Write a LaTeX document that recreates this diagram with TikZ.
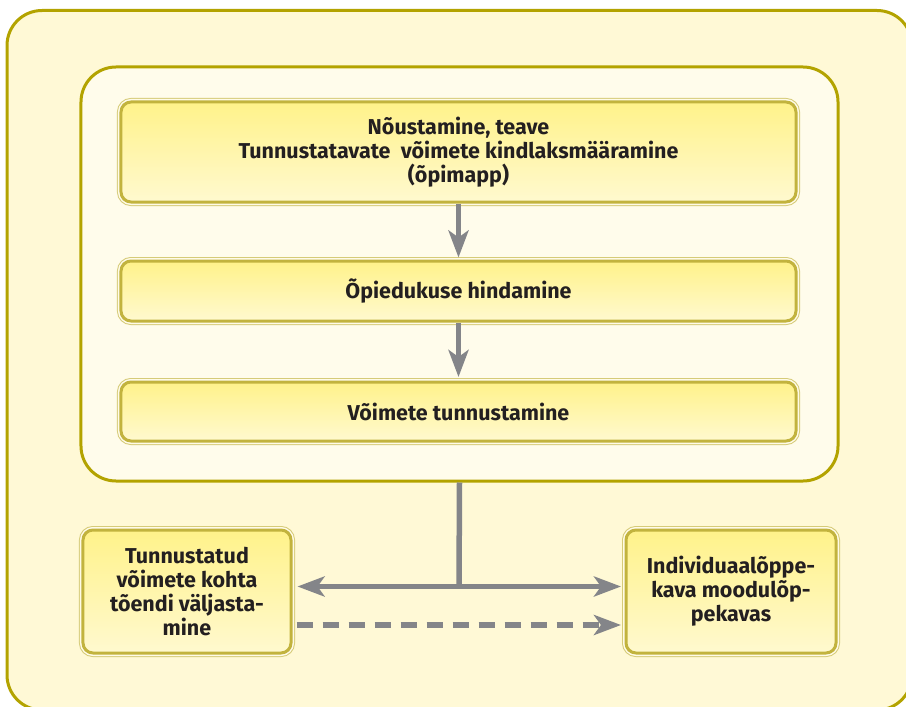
\documentclass[tikz,border=0pt]{standalone}
\usepackage{fontspec}
\setsansfont{Fira Sans}
\usetikzlibrary{arrows.meta}
\definecolor{framefill}{HTML}{FFF9D6}
\definecolor{frameedge}{HTML}{B3A300}
\definecolor{stagefill}{HTML}{FFFCEB}
\definecolor{boxtop}{HTML}{FFF28A}
\definecolor{boxbot}{HTML}{FFF9CF}
\definecolor{boxedge}{HTML}{C2B33E}
\definecolor{boxrim}{HTML}{D6CB78}
\definecolor{boxgap}{HTML}{FFFBE8}
\definecolor{boxtext}{HTML}{231F20}
\definecolor{flowgray}{HTML}{848589}
\begin{document}
\begin{tikzpicture}[x=1bp,y=-1bp,
    phasebox/.style={rounded corners=10bp, align=center, inner sep=0pt,
        preaction={draw=boxrim, line width=8bp},
        preaction={draw=boxgap, line width=6bp},
        draw=boxedge, line width=3bp, top color=boxtop, bottom color=boxbot,
        text=boxtext, font=\sffamily\bfseries\fontsize{21.5bp}{24bp}\selectfont},
    stageframe/.style={draw=frameedge, line width=3bp, fill=stagefill,
        rounded corners=35bp, inner sep=0pt},
    flowline/.style={draw=flowgray, line width=5.5bp},
    flowarrow/.style={flowline, -{Stealth[length=27bp, width=20bp, inset=7bp]}}
]
    \useasboundingbox (0,0) rectangle (906,707);
    \clip (0,0) rectangle (906,707);
    % outer frame
    \draw[draw=frameedge, line width=3bp, fill=framefill, rounded corners=35bp] (7,10.5) rectangle (912,710);
    % stages
    \node[stageframe, minimum width=757bp, minimum height=414bp] (stages) at (459.5,274) {};
    \node[phasebox, minimum width=675bp, minimum height=100bp] (noust) at (458.5,152)
        {Nõustamine, teave\\Tunnustatavate~ võimete kindlaksmääramine\\(õpimapp)};
    \node[phasebox, minimum width=675bp, minimum height=60bp] (opied) at (458.5,291)
        {Õpiedukuse hindamine};
    \node[phasebox, minimum width=675bp, minimum height=59bp] (tunnus) at (458.5,411.5)
        {Võimete tunnustamine};
    \draw[flowarrow, shorten >=2bp] (noust.south) -- (opied.north);
    \draw[flowarrow, shorten >=3.5bp] (opied.south) -- (tunnus.north);
    % results
    \node[phasebox, minimum width=208bp, minimum height=123bp] (toend) at (187,591.5)
        {Tunnustatud\\võimete kohta\\tõendi väljasta-\\mine};
    \node[phasebox, minimum width=210bp, minimum height=123bp] (plan) at (731,591.5)
        {Individuaalõppe-\\kava moodulõp-\\pekavas};
    \coordinate (split) at (459,586.5);
    \draw[flowline] (stages.south) -- (split);
    \draw[flowarrow, shorten >=5bp] (split) -- (split -| toend.east);
    \draw[flowarrow, shorten >=3.5bp] (split) -- (split -| plan.west);
    \coordinate (dashstart) at ([yshift=-33.5bp]toend.east);
    \draw[flowarrow, dash pattern=on 16bp off 10bp, shorten <=4bp, shorten >=3.5bp] (dashstart) -- (dashstart -| plan.west);
\end{tikzpicture}
\end{document}
